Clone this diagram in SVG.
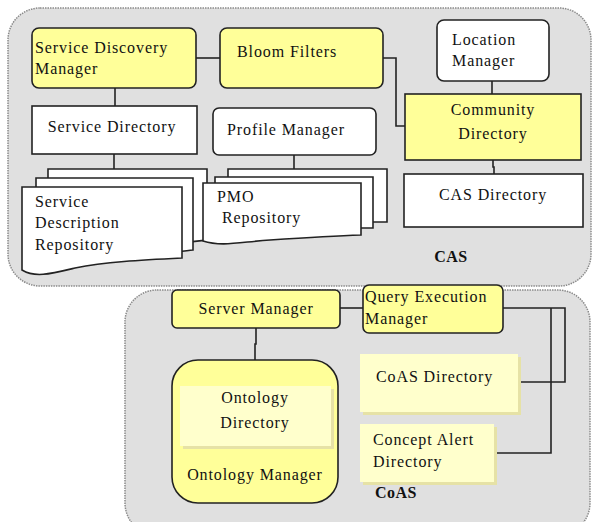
<svg xmlns="http://www.w3.org/2000/svg" width="593" height="522" viewBox="0 0 593 522">
<defs>
<style>
.cont{fill:#e0e0e0;stroke:#8a8a8a;stroke-width:1.5;stroke-dasharray:1.5 1}
.y{fill:#ffff99;stroke:#222;stroke-width:1.6}
.w{fill:#fff;stroke:#222;stroke-width:1.6}
.ly{fill:#ffffcc}
.sh{fill:#e6e2a6}
.c{fill:none;stroke:#222;stroke-width:1.6}
text{font-family:'Liberation Serif','Times New Roman',serif;font-size:16px;fill:#111;letter-spacing:0.9px}
.m{text-anchor:middle}
.b{font-weight:bold;letter-spacing:0.5px}
</style>
</defs>
<g id="cas-container"><rect class="cont" x="8" y="8" width="583" height="278" rx="32"/></g>
<g id="coas-container"><rect class="cont" x="125" y="290" width="465" height="245" rx="32"/></g>

<g id="connectors">
<path class="c" d="M196,58 H220"/>
<path class="c" d="M383,58 H396 V126 H405"/>
<path class="c" d="M492,81 V94"/>
<path class="c" d="M115,88 V106"/>
<path class="c" d="M114,154 V169"/>
<path class="c" d="M294,155 V169"/>
<path class="c" d="M493,160 V167 H494 V174"/>
<path class="c" d="M340,308 H363"/>
<path class="c" d="M256,328 V344 H255 V360"/>
<path class="c" d="M503,308 H565 V382 H518"/>
<path class="c" d="M551,308 V453 H493"/>
</g>

<g id="service-discovery-manager">
<rect class="y" x="32" y="28" width="164" height="60" rx="7"/>
<text x="35" y="53">Service Discovery</text>
<text x="35" y="74">Manager</text>
</g>
<g id="bloom-filters">
<rect class="y" x="220" y="28" width="163" height="60" rx="7"/>
<text x="237" y="57">Bloom Filters</text>
</g>
<g id="location-manager">
<rect class="w" x="437" y="20" width="112" height="61" rx="7"/>
<text x="452" y="45">Location</text>
<text x="452" y="66">Manager</text>
</g>
<g id="community-directory">
<rect class="y" x="405" y="94" width="176" height="66"/>
<text class="m" x="493" y="115">Community</text>
<text class="m" x="493" y="139">Directory</text>
</g>
<g id="service-directory">
<rect class="w" x="32" y="106" width="165" height="48"/>
<text class="m" x="112" y="132">Service Directory</text>
</g>
<g id="profile-manager">
<rect class="w" x="213" y="108" width="163" height="47" rx="6"/>
<text x="227" y="135">Profile Manager</text>
</g>
<g id="service-description-repository">
<path class="w" d="M48,169 H207 V240 C190,242 175,244 160,244 H48 Z"/>
<path class="w" d="M36,178 H193 V250 C175,252 160,254 140,254 H36 Z"/>
<path class="w" d="M22,187 H182 V258 C140,260 105,262 75,268 C50,274 35,278 22,270 Z"/>
<text x="35" y="207">Service</text>
<text x="35" y="228">Description</text>
<text x="35" y="250">Repository</text>
</g>
<g id="pmo-repository">
<path class="w" d="M228,169 H387 V222 H228 Z"/>
<path class="w" d="M215,177 H373 V228 H215 Z"/>
<path class="w" d="M203,183 H361 V235 C330,236 300,238 270,240 C240,242 222,247 203,241 Z"/>
<text x="217" y="202">PMO</text>
<text x="222" y="223">Repository</text>
</g>
<g id="cas-directory">
<rect class="w" x="404" y="174" width="179" height="53"/>
<text class="m" x="493" y="200">CAS Directory</text>
</g>
<g id="cas-label"><text class="m b" x="451" y="262">CAS</text></g>

<g id="server-manager">
<rect class="y" x="172" y="290" width="168" height="38" rx="5"/>
<text class="m" x="256" y="314">Server Manager</text>
</g>
<g id="query-execution-manager">
<rect class="y" x="363" y="285" width="140" height="48" rx="6"/>
<text x="365" y="302">Query Execution</text>
<text x="365" y="324">Manager</text>
</g>
<g id="ontology-manager">
<rect class="y" x="172" y="360" width="166" height="143" rx="26"/>
<rect class="sh" x="183" y="389" width="151" height="60"/>
<rect class="ly" x="180" y="386" width="151" height="60"/>
<text class="m" x="255" y="403">Ontology</text>
<text class="m" x="255" y="428">Directory</text>
<text class="m" x="255" y="480">Ontology Manager</text>
</g>
<g id="coas-directory">
<rect class="sh" x="363" y="357" width="158" height="58"/>
<rect class="ly" x="360" y="354" width="158" height="58"/>
<text x="376" y="382">CoAS Directory</text>
</g>
<g id="concept-alert-directory">
<rect class="sh" x="363" y="427" width="134" height="58"/>
<rect class="ly" x="360" y="424" width="134" height="58"/>
<text x="373" y="445">Concept Alert</text>
<text x="373" y="467">Directory</text>
</g>
<g id="coas-label"><text class="b" x="375" y="498">CoAS</text></g>
</svg>
